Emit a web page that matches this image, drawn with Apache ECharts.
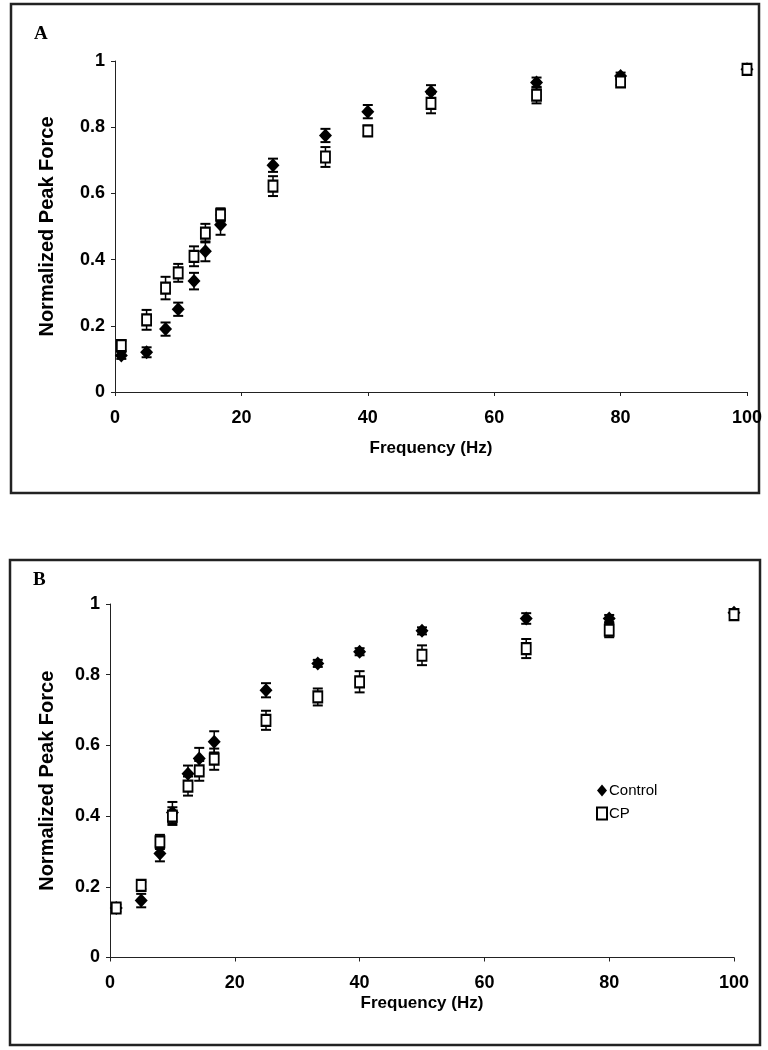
<!DOCTYPE html>
<html>
<head>
<meta charset="utf-8">
<script src="https://cdn.jsdelivr.net/npm/echarts@6/dist/echarts.min.js"></script>
<style>html,body{margin:0;padding:0;background:#fff}#c{width:768px;height:1050px}</style>
</head>
<body>
<div id="c"></div>
<script>
// Stimulation frequencies (Hz)
const freqs = [1, 5, 8, 10, 12.5, 14.3, 16.7, 25, 33.3, 40, 50, 66.7, 80, 100];
// Panel A
const ctrlA    = [0.11, 0.12, 0.19, 0.25, 0.335, 0.425, 0.505, 0.685, 0.775, 0.847, 0.907, 0.935, 0.955, 0.975];
const ctrlAErr = [0.01, 0.015, 0.02, 0.02, 0.025, 0.03, 0.03, 0.02, 0.02, 0.02, 0.02, 0.015, 0.01, 0.005];
const cpA      = [0.14, 0.218, 0.314, 0.36, 0.41, 0.48, 0.535, 0.622, 0.71, 0.789, 0.872, 0.897, 0.937, 0.975];
const cpAErr   = [0.015, 0.03, 0.034, 0.027, 0.03, 0.028, 0.02, 0.03, 0.03, 0.015, 0.03, 0.025, 0.01, 0.005];
// Panel B
const ctrlB    = [0.14, 0.161, 0.294, 0.41, 0.52, 0.563, 0.61, 0.756, 0.832, 0.865, 0.924, 0.959, 0.959, 0.975];
const ctrlBErr = [0.01, 0.019, 0.022, 0.03, 0.023, 0.03, 0.03, 0.02, 0.01, 0.01, 0.01, 0.015, 0.01, 0.01];
const cpB      = [0.14, 0.204, 0.327, 0.40, 0.485, 0.528, 0.561, 0.671, 0.737, 0.78, 0.855, 0.874, 0.926, 0.97];
const cpBErr   = [0.01, 0.01, 0.02, 0.025, 0.027, 0.028, 0.03, 0.027, 0.024, 0.03, 0.028, 0.027, 0.02, 0.01];
// Labels
const panelLabels = ['A', 'B'];
const xTitle = 'Frequency (Hz)';
const yTitle = 'Normalized Peak Force';
const seriesNames = ['Control', 'CP'];

const arial = "'Liberation Sans', Arial, sans-serif";

const pts = (vals) => freqs.map((f, i) => [f, vals[i]]);
const errs = (vals, e) => freqs.map((f, i) => [f, vals[i] - e[i], vals[i] + e[i]]);

function errRender(params, api) {
  const x = api.value(0);
  const p1 = api.coord([x, api.value(1)]);
  const p2 = api.coord([x, api.value(2)]);
  const w = 5;
  const st = { stroke: '#000', lineWidth: 2 };
  return {
    type: 'group',
    children: [
      { type: 'line', shape: { x1: p1[0], y1: p1[1], x2: p2[0], y2: p2[1] }, style: { stroke: '#000', lineWidth: 1.5 } },
      { type: 'line', shape: { x1: p1[0] - w, y1: p1[1], x2: p1[0] + w, y2: p1[1] }, style: st },
      { type: 'line', shape: { x1: p2[0] - w, y1: p2[1], x2: p2[0] + w, y2: p2[1] }, style: st }
    ]
  };
}

function xAxisCfg(gridIndex, nameGap) {
  return {
    type: 'value', gridIndex, min: 0, max: 100, interval: 20,
    name: xTitle, nameLocation: 'middle', nameGap,
    nameTextStyle: { fontFamily: arial, fontWeight: 'bold', fontSize: 17, color: '#000' },
    axisLine: { show: true, onZero: false, lineStyle: { color: '#222', width: 1 } },
    axisTick: { show: true, length: 4, lineStyle: { color: '#222' } },
    axisLabel: { fontFamily: arial, fontWeight: 'bold', fontSize: 18, color: '#000', margin: 17 },
    splitLine: { show: false }
  };
}
function yAxisCfg(gridIndex, nameGap) {
  return {
    type: 'value', gridIndex, min: 0, max: 1, interval: 0.2,
    name: yTitle, nameLocation: 'middle', nameGap, nameRotate: 90,
    nameTextStyle: { fontFamily: arial, fontWeight: 'bold', fontSize: 20, color: '#000' },
    axisLine: { show: true, onZero: false, lineStyle: { color: '#222', width: 1 } },
    axisTick: { show: true, length: 4, lineStyle: { color: '#222' } },
    axisLabel: { fontFamily: arial, fontWeight: 'bold', fontSize: 18, color: '#000', margin: 10 },
    splitLine: { show: false }
  };
}

const ctrlStyle = { color: '#000', opacity: 1 };
const cpStyle = { color: '#fff', borderColor: '#000', borderWidth: 2, opacity: 1 };

function panelSeries(idx, ctrl, ctrlE, cp, cpE) {
  return [
    { type: 'custom', xAxisIndex: idx, yAxisIndex: idx, renderItem: errRender, data: errs(ctrl, ctrlE), encode: { x: 0, y: [1, 2] }, z: 1, silent: true },
    { type: 'custom', xAxisIndex: idx, yAxisIndex: idx, renderItem: errRender, data: errs(cp, cpE), encode: { x: 0, y: [1, 2] }, z: 1, silent: true },
    { name: seriesNames[0], type: 'scatter', xAxisIndex: idx, yAxisIndex: idx, symbol: 'diamond', symbolSize: [13, 14], itemStyle: ctrlStyle, data: pts(ctrl), z: 3 },
    { name: seriesNames[1], type: 'scatter', xAxisIndex: idx, yAxisIndex: idx, symbol: 'rect', symbolSize: [9, 11], itemStyle: cpStyle, data: pts(cp), z: 4 }
  ];
}

const chart = echarts.init(document.getElementById('c'), null, { renderer: 'canvas' });
chart.setOption({
  animation: false,
  backgroundColor: '#fff',
  grid: [
    { left: 115, top: 61, width: 632, height: 331 },
    { left: 110, top: 604, width: 624, height: 353.5 }
  ],
  xAxis: [xAxisCfg(0, 48), xAxisCfg(1, 37)],
  yAxis: [yAxisCfg(0, 58), yAxisCfg(1, 53)],
  legend: {
    data: [
      { name: seriesNames[0], icon: 'diamond' },
      { name: seriesNames[1], icon: 'rect' }
    ],
    orient: 'vertical', left: 591, top: 778, itemGap: 8, itemWidth: 10, itemHeight: 12,
    textStyle: { fontFamily: arial, fontSize: 15, color: '#000', padding: [0, 0, 0, -3] }
  },
  graphic: [
    { type: 'rect', shape: { x: 11, y: 4, width: 748, height: 489 }, style: { fill: 'none', stroke: '#222', lineWidth: 2.5 }, silent: true },
    { type: 'rect', shape: { x: 10, y: 560, width: 750, height: 485 }, style: { fill: 'none', stroke: '#222', lineWidth: 2.5 }, silent: true },
    { type: 'text', left: 34, top: 25, style: { text: panelLabels[0], font: "bold 19px 'Liberation Serif', 'Times New Roman', serif", fill: '#000' } },
    { type: 'text', left: 33, top: 571, style: { text: panelLabels[1], font: "bold 19px 'Liberation Serif', 'Times New Roman', serif", fill: '#000' } }
  ],
  series: [
    ...panelSeries(0, ctrlA, ctrlAErr, cpA, cpAErr),
    ...panelSeries(1, ctrlB, ctrlBErr, cpB, cpBErr)
  ]
});
</script>
</body>
</html>
